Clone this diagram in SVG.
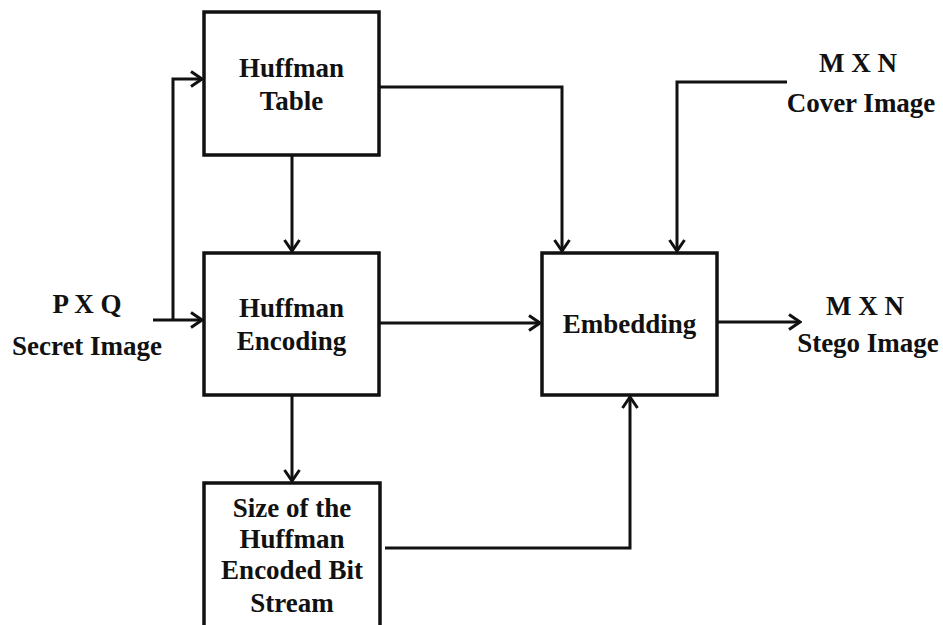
<svg xmlns="http://www.w3.org/2000/svg" width="943" height="625" viewBox="0 0 943 625">
<style>
.box{fill:#fff;stroke:#111;stroke-width:3.5}
.t{font-family:"Liberation Serif","Times New Roman",serif;font-weight:bold;font-size:27px;fill:#111;text-anchor:middle}
.c{fill:none;stroke:#111;stroke-width:3}
</style>
<defs>
<marker id="ah" markerUnits="userSpaceOnUse" markerWidth="14" markerHeight="18" viewBox="0 0 14 18" refX="12" refY="9" orient="auto">
<path d="M1,1.5 L12,9 L1,16.5" fill="none" stroke="#111" stroke-width="3"/>
</marker>
</defs>
<rect width="943" height="625" fill="#fff"/>
<g id="connectors">
<path class="c" d="M292,155 V251" marker-end="url(#ah)"/>
<path class="c" d="M292,395 V481" marker-end="url(#ah)"/>
<path class="c" d="M153,320 H202" marker-end="url(#ah)"/>
<path class="c" d="M173,320 V79 H202" marker-end="url(#ah)"/>
<path class="c" d="M379,87 H562 V251" marker-end="url(#ah)"/>
<path class="c" d="M787,82 H677 V251" marker-end="url(#ah)"/>
<path class="c" d="M379,323 H540" marker-end="url(#ah)"/>
<path class="c" d="M717,322 H800" marker-end="url(#ah)"/>
<path class="c" d="M385,548 H630 V397" marker-end="url(#ah)"/>
</g>
<g id="huffman-table">
<rect class="box" x="204" y="12" width="175" height="143"/>
<text class="t" x="291.5" y="77">Huffman</text>
<text class="t" x="291.5" y="110">Table</text>
</g>
<g id="huffman-encoding">
<rect class="box" x="204" y="253" width="175" height="142"/>
<text class="t" x="291.5" y="317">Huffman</text>
<text class="t" x="291.5" y="350">Encoding</text>
</g>
<g id="embedding">
<rect class="box" x="542" y="253" width="175" height="142"/>
<text class="t" x="629.5" y="333">Embedding</text>
</g>
<g id="size-box">
<rect class="box" x="204" y="483" width="176" height="160"/>
<text class="t" x="292" y="517">Size of the</text>
<text class="t" x="292" y="548">Huffman</text>
<text class="t" x="292" y="579">Encoded Bit</text>
<text class="t" x="292" y="612">Stream</text>
</g>
<g id="secret-image">
<text class="t" x="87" y="313">P X Q</text>
<text class="t" x="87" y="355">Secret Image</text>
</g>
<g id="cover-image">
<text class="t" x="858" y="72">M X N</text>
<text class="t" x="861" y="112">Cover Image</text>
</g>
<g id="stego-image">
<text class="t" x="865" y="315">M X N</text>
<text class="t" x="868" y="352">Stego Image</text>
</g>
</svg>
